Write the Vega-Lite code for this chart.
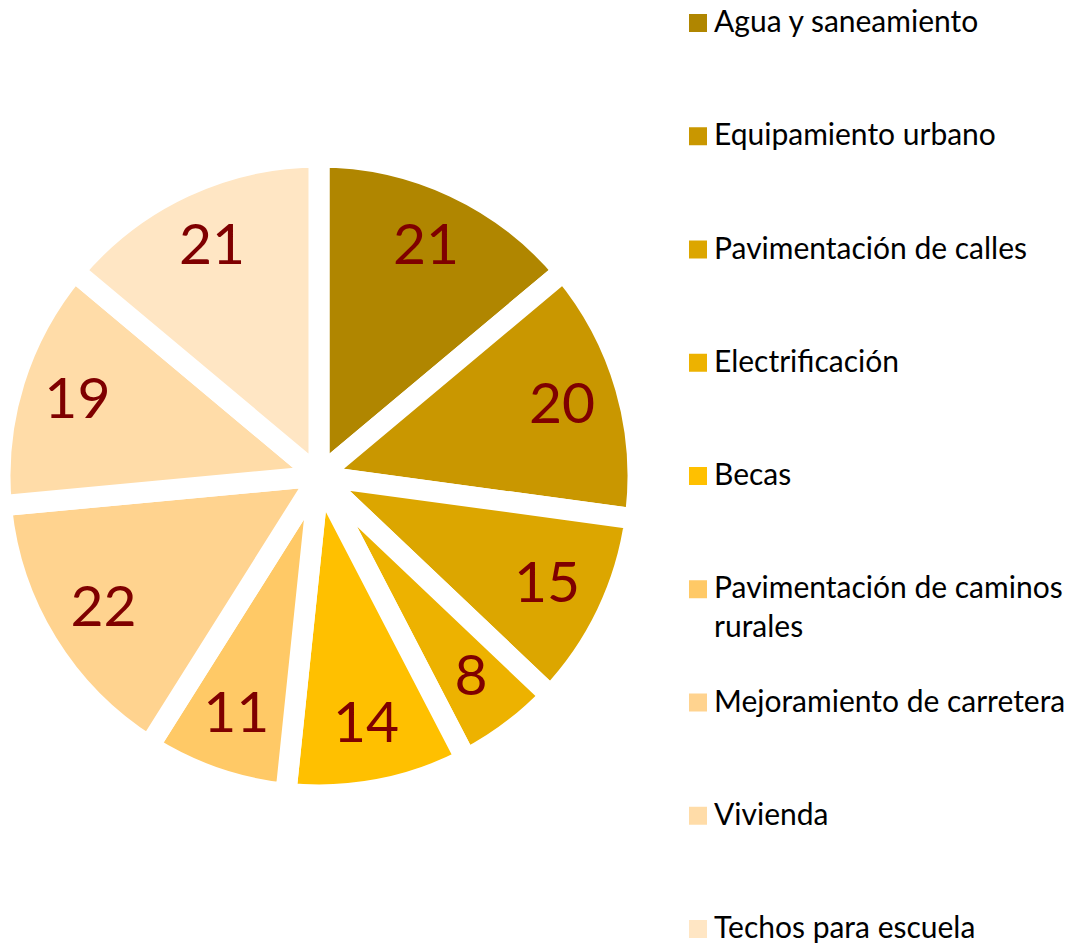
{
  "$schema": "https://vega.github.io/schema/vega-lite/v6.json",
  "width": 638,
  "height": 952,
  "autosize": {"type": "none"},
  "padding": {"left": 0, "top": 0, "right": 438, "bottom": 0},
  "background": "white",
  "data": {
    "values": [
      {"categoria": "Agua y saneamiento", "valor": 21, "orden": 1},
      {"categoria": "Equipamiento urbano", "valor": 20, "orden": 2},
      {"categoria": "Pavimentación de calles", "valor": 15, "orden": 3},
      {"categoria": "Electrificación", "valor": 8, "orden": 4},
      {"categoria": "Becas", "valor": 14, "orden": 5},
      {"categoria": "Pavimentación de caminos rurales", "valor": 11, "orden": 6},
      {"categoria": "Mejoramiento de carretera", "valor": 22, "orden": 7},
      {"categoria": "Vivienda", "valor": 19, "orden": 8},
      {"categoria": "Techos para escuela", "valor": 21, "orden": 9}
    ]
  },
  "encoding": {
    "theta": {"field": "valor", "type": "quantitative", "stack": true},
    "order": {"field": "orden", "type": "quantitative"}
  },
  "layer": [
    {
      "mark": {"type": "arc", "stroke": "white", "strokeWidth": 21, "outerRadius": 319},
      "encoding": {
        "color": {
          "field": "categoria",
          "type": "nominal",
          "sort": null,
          "scale": {
            "domain": ["Agua y saneamiento", "Equipamiento urbano", "Pavimentación de calles", "Electrificación", "Becas", "Pavimentación de caminos rurales", "Mejoramiento de carretera", "Vivienda", "Techos para escuela"],
            "range": ["#B08600", "#C99700", "#DCA600", "#EDB200", "#FFC000", "#FFC966", "#FFD38F", "#FFDCA8", "#FFE6C4"]
          },
          "legend": {
            "title": null,
            "orient": "none",
            "legendX": 683,
            "legendY": 8,
            "symbolType": "square",
            "symbolSize": 324,
            "symbolStrokeWidth": 0,
            "labelFont": "Lato",
            "labelFontSize": 30,
            "labelColor": "black",
            "labelLimit": 420,
            "labelOffset": 1,
            "rowPadding": 44.25,
            "gridAlign": "all",
            "labelExpr": "datum.label == 'Pavimentación de caminos rurales' ? ['Pavimentación de caminos', 'rurales'] : datum.label",
            "encode": {
              "labels": {
                "update": {
                  "lineHeight": {"value": 39},
                  "dy": {"signal": "datum.value == 'Pavimentación de caminos rurales' ? 19.5 : 0"}
                }
              }
            }
          }
        }
      }
    },
    {
      "mark": {"type": "text", "radius": 253, "font": "Lato", "fontSize": 57},
      "encoding": {
        "detail": {"field": "categoria", "type": "nominal"},
        "color": {"value": "#7f0000"},
        "text": {"field": "valor", "type": "quantitative"}
      }
    }
  ],
  "config": {
    "view": {"stroke": null},
    "style": {"guide-label": {"lineHeight": 39}}
  }
}
